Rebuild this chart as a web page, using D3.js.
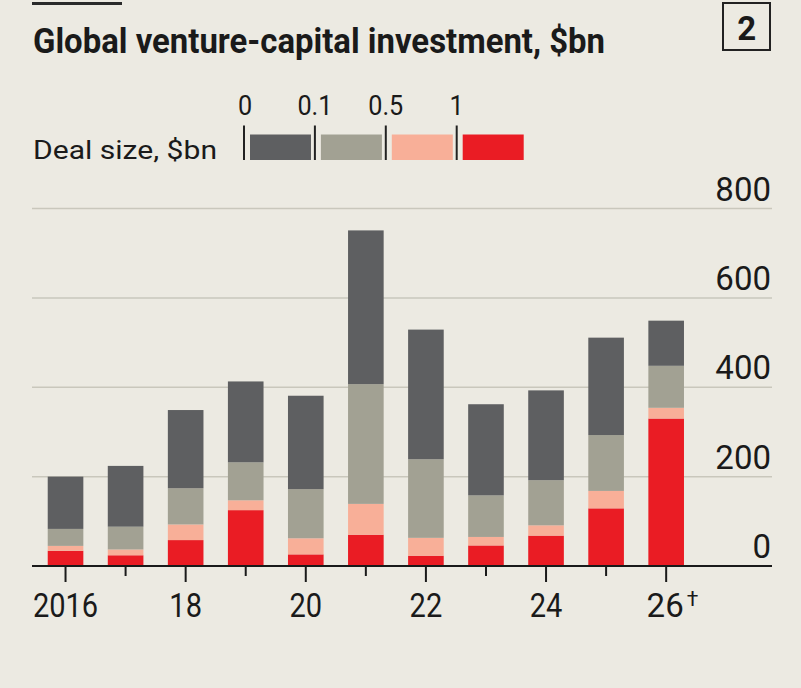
<!DOCTYPE html>
<html>
<head>
<meta charset="utf-8">
<script src="https://cdn.jsdelivr.net/npm/d3@7"></script>
<style>
  html, body { margin: 0; padding: 0; background: #eceae2; }
  svg { display: block; }
  text { font-family: Roboto, "Noto Sans", sans-serif; fill: #1a1a1a; }
</style>
</head>
<body>
<svg id="chart" width="801" height="688"></svg>
<script>
// ---- data ----
const years = ["2016","2017","2018","2019","2020","2021","2022","2023","2024","2025","2026"];
const xTickLabels = {"2016":"2016","2018":"18","2020":"20","2022":"22","2024":"24","2026":"26"};
const footnoteYear = "2026";
const dealOver1 = [34, 24, 58, 125, 26, 70, 23, 46, 68, 129, 330];      // >= $1bn
const deal05to1 = [11, 13, 35, 22, 36, 69, 40, 19, 23, 39, 24];         // 0.5-1
const deal01to05 = [38, 51, 81, 85, 110, 268, 176, 93, 101, 125, 94];   // 0.1-0.5
const deal0to01 = [117, 136, 175, 181, 209, 344, 290, 204, 201, 218, 101]; // 0-0.1
const yTicks = [0, 200, 400, 600, 800];
const legendLabels = ["0", "0.1", "0.5", "1"];
const seriesKeys = ["over1", "d05", "d01", "d0"];          // bottom to top
const legendKeys = ["d0", "d01", "d05", "over1"];          // left to right
const colors = {d0: "#5e5f61", d01: "#a2a193", d05: "#f8af98", over1: "#ea1c24"};

const rows = years.map((y, i) => ({
  year: y, over1: dealOver1[i], d05: deal05to1[i], d01: deal01to05[i], d0: deal0to01[i]
}));

const svg = d3.select("#chart");

// ---- scales ----
const x = d3.scaleBand().domain(years).range([35.5, 696.2])
  .paddingInner(0.407).paddingOuter(0.2035);
const y = d3.scaleLinear().domain([0, 800]).range([566, 208.5]);

// ---- header ----
svg.append("rect").attr("x", 32).attr("y", 2).attr("width", 90).attr("height", 3).attr("fill", "#2a2a2a");
svg.append("text").attr("x", 33).attr("y", 53)
  .attr("font-size", 35).attr("font-weight", 700)
  .attr("textLength", 572).attr("lengthAdjust", "spacingAndGlyphs")
  .text("Global venture-capital investment, $bn");

svg.append("rect").attr("x", 723).attr("y", 3).attr("width", 47).attr("height", 47)
  .attr("fill", "none").attr("stroke", "#222").attr("stroke-width", 2);
svg.append("text").attr("x", 746.7).attr("y", 39.5).attr("text-anchor", "middle")
  .attr("font-size", 33).attr("font-weight", 700).text("2");

// ---- legend ----
svg.append("text").attr("x", 33).attr("y", 159).attr("font-size", 26)
  .attr("textLength", 184).attr("lengthAdjust", "spacingAndGlyphs")
  .text("Deal size, $bn");
const legStep = 70.9, legX0 = 244;
const leg = svg.append("g");
legendKeys.forEach((k, i) => {
  const tx = legX0 + i * legStep;
  leg.append("line").attr("x1", tx).attr("x2", tx).attr("y1", 125.5).attr("y2", 160)
    .attr("stroke", "#222").attr("stroke-width", 2);
  leg.append("rect").attr("x", tx + 6).attr("y", 134.5).attr("width", 61).attr("height", 25.5)
    .attr("fill", colors[k]);
  const lt = leg.append("text").attr("x", tx + (i === 0 ? 1 : 0)).attr("y", 115).attr("text-anchor", "middle")
    .attr("font-size", 28).text(legendLabels[i]);
  const w = lt.node().getComputedTextLength();
  lt.attr("textLength", w * 0.9).attr("lengthAdjust", "spacingAndGlyphs");
});

// ---- gridlines and y labels ----
const grid = svg.append("g");
yTicks.forEach(t => {
  if (t !== 0) {
    grid.append("line").attr("x1", 32).attr("x2", 772).attr("y1", y(t)).attr("y2", y(t))
      .attr("stroke", "#c9c7bc").attr("stroke-width", 1.5);
  }
  grid.append("text").attr("x", 771).attr("y", y(t) - 8).attr("text-anchor", "end")
    .attr("font-size", 33).text(t);
});

// ---- stacked bars ----
const stack = d3.stack().keys(seriesKeys)(rows);
svg.append("g").selectAll("g").data(stack).join("g")
  .attr("fill", d => colors[d.key])
  .selectAll("rect").data(d => d).join("rect")
  .attr("x", d => x(d.data.year))
  .attr("width", x.bandwidth())
  .attr("y", d => y(d[1]))
  .attr("height", d => y(d[0]) - y(d[1]));

// ---- x axis ----
svg.append("line").attr("x1", 32).attr("x2", 772).attr("y1", y(0)).attr("y2", y(0))
  .attr("stroke", "#1a1a1a").attr("stroke-width", 2);
years.forEach(yr => {
  const cx = x(yr) + x.bandwidth() / 2;
  const major = xTickLabels[yr] !== undefined;
  svg.append("line").attr("x1", cx).attr("x2", cx).attr("y1", y(0))
    .attr("y2", y(0) + (major ? 16 : 10)).attr("stroke", "#1a1a1a").attr("stroke-width", 2);
  if (!major) return;
  const t = svg.append("text").attr("y", 617).attr("font-size", 33);
  const main = t.append("tspan").text(xTickLabels[yr]);
  const natural = main.node().getComputedTextLength();
  if (yr === footnoteYear) {
    t.attr("x", cx - natural / 2 - 1);
    t.append("tspan").attr("dx", 3).attr("dy", -11).attr("font-size", 21).text("\u2020");
  } else {
    const w = natural * 0.88;
    t.attr("x", cx - w / 2);
    main.attr("textLength", w).attr("lengthAdjust", "spacingAndGlyphs");
  }
});
</script>
</body>
</html>
